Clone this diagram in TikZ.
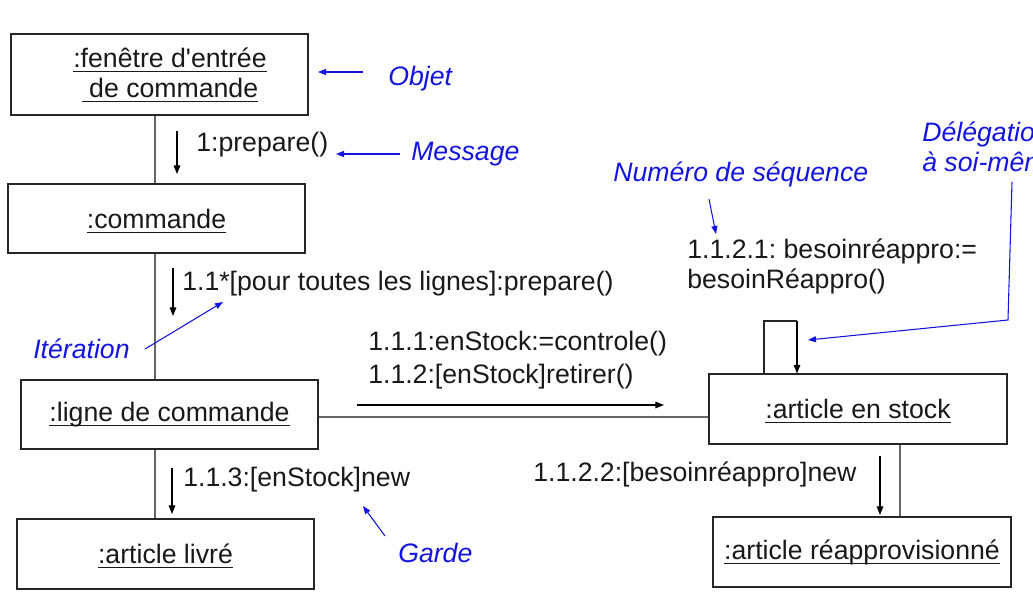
\documentclass[tikz,border=0pt]{standalone}
\usepackage{fontspec}
\setmainfont{Liberation Sans}[Ligatures=TeXOff]
\usetikzlibrary{arrows.meta}
\definecolor{annblue}{RGB}{20,20,225}
\definecolor{txt}{RGB}{25,25,25}
\newcommand{\ulx}[1]{\setbox0\hbox{#1}\rlap{\smash{\rule[-3.6pt]{\wd0}{0.75pt}}}\box0}
\frenchspacing
\begin{document}
\begin{tikzpicture}[x=0.75pt,y=-0.75pt,
  every node/.style={font=\fontsize{20}{22.5}\selectfont, text=txt},
  obj/.style={draw=black!85, line width=0.8pt, minimum width=222.75pt, minimum height=52pt, inner sep=0pt},
  link/.style={draw=black!60, line width=1.1pt},
  msg/.style={draw=black, line width=0.8pt, -{Triangle[length=6.5pt,width=5pt]}},
  lbl/.style={anchor=west, inner sep=0pt, yshift=-1.5pt},
  ann/.style={anchor=west, inner sep=0pt, yshift=-1.5pt, text=annblue, font=\fontsize{20}{22.5}\selectfont\itshape},
  annarrow/.style={draw=annblue, line width=0.8pt, -{Triangle[length=6pt,width=4.5pt]}}
]
\useasboundingbox[fill=white] (0,0) rectangle (1033,602);

% objects
\node[obj, minimum height=60.75pt] (box1) at (159.5,74.5) {};
\node[align=center, inner sep=0pt] (t1) at (170,73) {\ulx{:fenêtre d'entrée}\\\ulx{\ de commande}};
\node[obj, minimum height=51.75pt] (box2) at (156.5,218.5) {\ulx{:commande}};
\node[obj, minimum height=51.75pt] (box3) at (169.5,414.5) {\ulx{:ligne de commande}};
\node[obj, minimum height=52.5pt] (box4) at (165.5,554) {\ulx{:article livré}};
\node[obj, minimum width=223.5pt, minimum height=52.5pt] (box5) at (858,409) {\ulx{:article en stock}};
\node[obj, minimum width=223.5pt, minimum height=52.5pt] (box6) at (862,552) {\ulx{:article réapprovisionné}};

% helper coordinates
\coordinate (vx) at (155,0);
\coordinate (hy) at (0,417);
\coordinate (sx) at (900,0);
\coordinate (lpL) at (764,321);
\coordinate (lpR) at (797,321);

% links
\draw[link] (box1.south -| vx) -- (box2.north -| vx);
\draw[link] (box2.south -| vx) -- (box3.north -| vx);
\draw[link] (box3.south -| vx) -- (box4.north -| vx);
\draw[link] (box3.east |- hy) -- (box5.west |- hy);
\draw[link] (box5.south -| sx) -- (box6.north -| sx);
\draw[draw=black!85, line width=0.8pt] (box5.north -| lpL) -- (lpL) -- (lpR);
\draw[msg] (lpR) -- (box5.north -| lpR);

% messages
\coordinate (m1a) at (177,131); \coordinate (m1b) at (177,174);
\draw[msg] (m1a) -- (m1b);
\node[lbl] (l1) at (196,143) {1:prepare()};

\coordinate (m2a) at (173,268); \coordinate (m2b) at (173,316);
\draw[msg] (m2a) -- (m2b);
\node[lbl] (l2) at (182,282) {1.1*[pour toutes les lignes]:prepare()};

\coordinate (m3a) at (357,405); \coordinate (m3b) at (664,405);
\draw[msg] (m3a) -- (m3b);
\node[lbl] (l3) at (368,342) {1.1.1:enStock:=controle()};
\node[lbl] (l4) at (368,375) {1.1.2:[enStock]retirer()};

\coordinate (m4a) at (172,468); \coordinate (m4b) at (172,514);
\draw[msg] (m4a) -- (m4b);
\node[lbl] (l5) at (183,478) {1.1.3:[enStock]new};

\coordinate (m5a) at (880,456); \coordinate (m5b) at (880,515);
\draw[msg] (m5a) -- (m5b);
\node[lbl] (l6) at (533,472) {1.1.2.2:[besoinréappro]new};

\node[lbl, align=left] (l7) at (687,264) {1.1.2.1: besoinréappro:=\\besoinRéappro()};

% annotations
\node[ann] (aObjet) at (388,77) {Objet};
\coordinate (a1s) at (363,72); \coordinate (a1e) at (318,72);
\draw[annarrow] (a1s) -- (a1e);

\node[ann] (aMsg) at (411,152) {Message};
\coordinate (a2s) at (400,154); \coordinate (a2e) at (336,154);
\draw[annarrow] (a2s) -- (a2e);

\node[ann] (aIter) at (33,347) {Itération};
\coordinate (a3s) at (145,349); \coordinate (a3e) at (223,302);
\draw[annarrow] (a3s) -- (a3e);

\node[ann] (aGarde) at (398,551) {Garde};
\coordinate (a4s) at (385,536); \coordinate (a4e) at (363,506);
\draw[annarrow] (a4s) -- (a4e);

\node[ann] (aNum) at (613,172) {Numéro de séquence};
\coordinate (a5s) at (709,199); \coordinate (a5e) at (716,234);
\draw[annarrow] (a5s) -- (a5e);

\node[ann, align=left] (aDel) at (922,145) {Délégation\\à soi-même};
\coordinate (a6s) at (1012,182); \coordinate (a6m) at (1008,320); \coordinate (a6e) at (808,340);
\draw[annarrow] (a6s) -- (a6m) -- (a6e);
\end{tikzpicture}
\end{document}
